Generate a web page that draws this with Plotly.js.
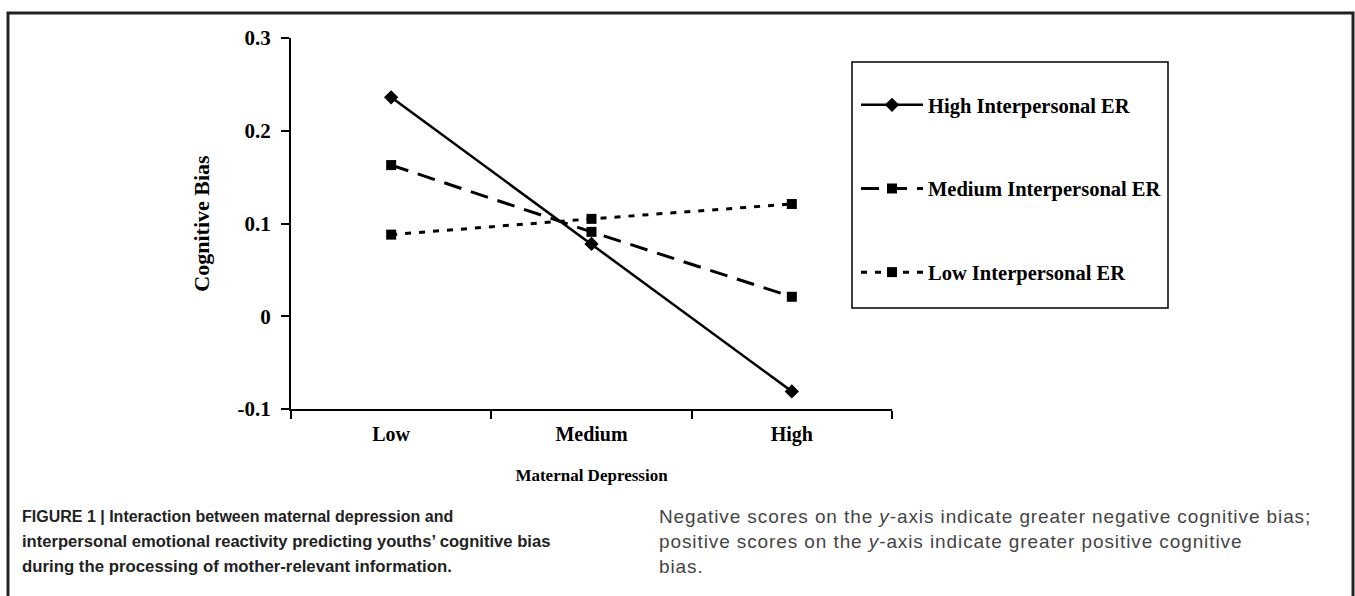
<!DOCTYPE html>
<html>
<head>
<meta charset="utf-8">
<script src="https://cdn.plot.ly/plotly-3.0.1.min.js"></script>
<style>
html,body{margin:0;padding:0;background:#fff;}
#chart{width:1355px;height:596px;}
#chart g.annotation[data-index="3"] text,
#chart g.annotation[data-index="4"] text,
#chart g.annotation[data-index="5"] text{letter-spacing:0.9px;}
</style>
</head>
<body>
<div id="chart"></div>
<script>
var categories = ["Low", "Medium", "High"];
var highER = [0.236, 0.078, -0.081];
var mediumER = [0.163, 0.091, 0.021];
var lowER = [0.088, 0.105, 0.121];
var seriesNames = ["High Interpersonal ER", "Medium Interpersonal ER", "Low Interpersonal ER"];
var yTickVals = [-0.1, 0, 0.1, 0.2, 0.3];
var yTickText = ["-0.1", "0", "0.1", "0.2", "0.3"];

var W = 1355, H = 596;
var L = 291, R = 892, T = 38, B = 409;
function px(x){ return (x - L) / (R - L); }
function py(y){ return (B - y) / (B - T); }

var serif = "'Liberation Serif', 'Times New Roman', serif";
var sans = "'Liberation Sans', Arial, sans-serif";

var traces = [
  {x: categories, y: highER, name: seriesNames[0], legendgroup: "a", type: "scatter", mode: "lines+markers",
   line: {color: "#000", width: 2.5, dash: "solid"}, marker: {symbol: "diamond", size: 11, color: "#000"}},
  {x: categories, y: mediumER, name: seriesNames[1], legendgroup: "b", type: "scatter", mode: "lines+markers",
   line: {color: "#000", width: 3, dash: "18px,10px"}, marker: {symbol: "square", size: 10, color: "#000"}},
  {x: categories, y: lowER, name: seriesNames[2], legendgroup: "c", type: "scatter", mode: "lines+markers",
   line: {color: "#000", width: 3, dash: "6px,8px"}, marker: {symbol: "square", size: 10, color: "#000"}}
];

var layout = {
  width: W, height: H,
  margin: {l: L, r: W - R, t: T, b: H - B, pad: 0},
  paper_bgcolor: "#fff", plot_bgcolor: "#fff",
  showlegend: true,
  legend: {
    x: px(856), y: py(85), xanchor: "left", yanchor: "top",
    font: {family: serif, size: 20.5, color: "#000", weight: "bold"},
    traceorder: "grouped", tracegroupgap: 54, itemwidth: 62,
    bgcolor: "rgba(0,0,0,0)", borderwidth: 0
  },
  xaxis: {
    type: "category", range: [-0.5, 2.5], tickson: "boundaries",
    showline: true, linecolor: "#000", linewidth: 2,
    ticks: "outside", ticklen: 8, tickwidth: 2, tickcolor: "#000",
    showgrid: false, zeroline: false,
    tickfont: {family: serif, size: 20, color: "#000", weight: "bold"},
    ticklabelstandoff: 6,
    title: {text: "Maternal Depression", font: {family: serif, size: 17, color: "#000", weight: "bold"}, standoff: 24},
    fixedrange: true
  },
  yaxis: {
    range: [-0.1, 0.3], tickvals: yTickVals, ticktext: yTickText,
    showline: true, linecolor: "#000", linewidth: 2,
    ticks: "outside", ticklen: 8, tickwidth: 2, tickcolor: "#000",
    showgrid: false, zeroline: false,
    tickfont: {family: serif, size: 21, color: "#000", weight: "bold"},
    ticklabelstandoff: 6,
    title: {text: "Cognitive Bias", font: {family: serif, size: 22, color: "#000", weight: "bold"}, standoff: 22},
    fixedrange: true
  },
  shapes: [
    {type: "rect", xref: "paper", yref: "paper", x0: px(8), x1: px(1353), y0: py(13), y1: py(605),
     line: {color: "#222", width: 3}, fillcolor: "rgba(0,0,0,0)", layer: "above"},
    {type: "rect", xref: "paper", yref: "paper", x0: px(852), x1: px(1168), y0: py(62), y1: py(308),
     line: {color: "#000", width: 1.5}, fillcolor: "rgba(0,0,0,0)"}
  ],
  annotations: [
    {xref: "paper", yref: "paper", x: px(20), y: py(516), xanchor: "left", yanchor: "middle", showarrow: false, align: "left",
     text: "FIGURE 1 | Interaction between maternal depression and", font: {family: sans, size: 16, color: "#222", weight: "bold"}},
    {xref: "paper", yref: "paper", x: px(20), y: py(541), xanchor: "left", yanchor: "middle", showarrow: false, align: "left",
     text: "interpersonal emotional reactivity predicting youths\u2019 cognitive bias", font: {family: sans, size: 16.6, color: "#222", weight: "bold"}},
    {xref: "paper", yref: "paper", x: px(20), y: py(566), xanchor: "left", yanchor: "middle", showarrow: false, align: "left",
     text: "during the processing of mother-relevant information.", font: {family: sans, size: 16.8, color: "#222", weight: "bold"}},
    {xref: "paper", yref: "paper", x: px(657), y: py(516), xanchor: "left", yanchor: "middle", showarrow: false, align: "left",
     text: "Negative scores on the <i>y</i>-axis indicate greater negative cognitive bias;", font: {family: sans, size: 19, color: "#444"}},
    {xref: "paper", yref: "paper", x: px(657), y: py(541), xanchor: "left", yanchor: "middle", showarrow: false, align: "left",
     text: "positive scores on the <i>y</i>-axis indicate greater positive cognitive", font: {family: sans, size: 19, color: "#444"}},
    {xref: "paper", yref: "paper", x: px(657), y: py(566), xanchor: "left", yanchor: "middle", showarrow: false, align: "left",
     text: "bias.", font: {family: sans, size: 19, color: "#444"}}
  ]
};

Plotly.newPlot("chart", traces, layout, {displayModeBar: false, staticPlot: true});
</script>
</body>
</html>
